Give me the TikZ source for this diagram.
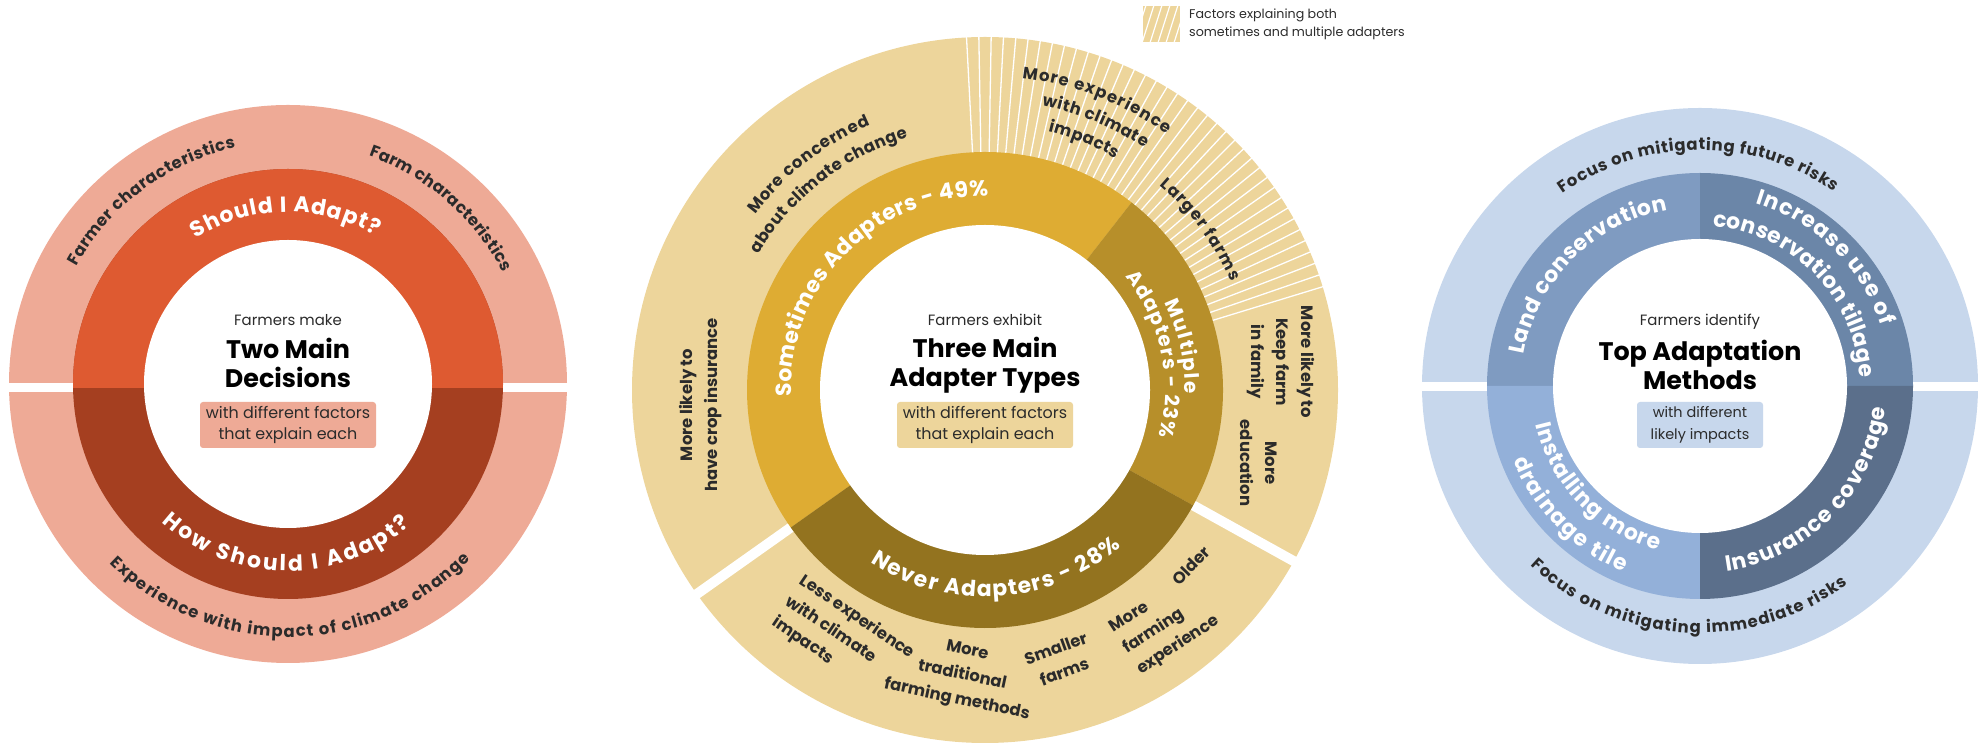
\documentclass[tikz,border=0pt]{standalone}
\usepackage{fontspec}
\setmainfont{Poppins}
\usetikzlibrary{decorations.text}

\definecolor{ink}{HTML}{2B2B2B}
\definecolor{decRing}{HTML}{EEAA96}
\definecolor{decShould}{HTML}{DE5A31}
\definecolor{decHow}{HTML}{A53F20}
\definecolor{typRing}{HTML}{EDD59B}
\definecolor{typSome}{HTML}{DEAC33}
\definecolor{typMult}{HTML}{B78F2A}
\definecolor{typNever}{HTML}{93731F}
\definecolor{metRing}{HTML}{C7D7EC}
\definecolor{metLand}{HTML}{7F9BC1}
\definecolor{metTill}{HTML}{6B86A8}
\definecolor{metTile}{HTML}{93B0D9}
\definecolor{metIns}{HTML}{5B6F8B}

\newcommand\bandfont{\fontsize{22}{22}\selectfont\bfseries\color{white}}
\newcommand\multfont{\fontsize{20}{20}\selectfont\bfseries\color{white}}
\newcommand\factfont{\fontsize{16.5}{25}\selectfont\bfseries\color{ink}}
\newcommand\leadfont{\fontsize{15}{15}\selectfont\color{ink}}
\newcommand\titlefont{\fontsize{25.5}{29}\selectfont\bfseries\color{black}}
\newcommand\notefont{\fontsize{16}{22}\selectfont\color{ink}}
\newcommand\legendfont{\fontsize{12.7}{18}\selectfont\color{ink}}

\begin{document}
\begin{tikzpicture}[x=1bp,y=1bp]
\tikzset{
    bandtext/.style={decorate,decoration={text along path,text align={fit to path},text={|\bandfont|#1}}},
    multtext/.style={decorate,decoration={text along path,text align={fit to path},text={|\multfont|#1}}},
    facttext/.style={decorate,decoration={text along path,text align={fit to path},text={|\factfont|#1}}},
    factnode/.style={font=\factfont,align=center,inner sep=0pt},
    notebox/.style={font=\notefont,align=center,rounded corners=3bp,minimum height=46bp,inner sep=0pt}
}
\useasboundingbox (0,0) rectangle (1981,746);

\coordinate (lc) at (288,362);
\coordinate (mc) at (985,356);
\coordinate (rc) at (1700,360);

\fill[decRing] (lc) circle (279);
\fill[white] (lc) ++(-290,-8) rectangle ++(580,9);
\fill[decHow] (lc) circle (215);
\begin{scope}
\clip (lc) ++(-220,-4) rectangle ++(440,230);
\fill[decShould] (lc) circle (215);
\end{scope}
\fill[white] (lc) circle (144);

\path[bandtext={Should I Adapt?}] (lc) ++(122.5:172) arc[start angle=122.5,end angle=59.5,radius=172];
\path[bandtext={How Should I Adapt?}] (lc) ++(-132.4:187) arc[start angle=-132.4,end angle=-49,radius=187];
\path[facttext={Farmer characteristics}] (lc) ++(151:242) arc[start angle=151,end angle=102.5,radius=242];
\path[facttext={Farm characteristics}] (lc) ++(70.5:242) arc[start angle=70.5,end angle=27.5,radius=242];
\path[facttext={Experience with impact of climate change}] (lc) ++(-134.8:253) arc[start angle=-134.8,end angle=-43.8,radius=253];

\node[font=\leadfont,inner sep=0pt] (lmake) at (288,426) {Farmers make};
\node[font=\titlefont,align=center,inner sep=0pt] (ltitle) at (288,383) {Two Main\\Decisions};
\node[notebox,fill=decRing,minimum width=176bp] (lnote) at (288,321) {with different factors\\that explain each};

\fill[typRing] (mc) circle (353);
\foreach \a in {17,19,...,93} \draw[white,line width=1.3bp] (mc) ++(\a:236) -- ++(\a:120);
\draw[white,line width=10bp] (mc) ++(215.3:236) -- ++(215.3:125);
\draw[white,line width=10bp] (mc) ++(-29:236) -- ++(-29:125);
\fill[typSome] (mc) -- ++(52:238) arc[start angle=52,end angle=215.3,radius=238] -- cycle;
\fill[typMult] (mc) -- ++(-29:238) arc[start angle=-29,end angle=52,radius=238] -- cycle;
\fill[typNever] (mc) -- ++(215.3:238) arc[start angle=215.3,end angle=331,radius=238] -- cycle;
\fill[white] (mc) circle (165);

\path[bandtext={Sometimes Adapters - 49{\%}}] (mc) ++(182:194) arc[start angle=182,end angle=89,radius=194];
\path[multtext={Multiple}] (mc) ++(26:200) arc[start angle=26,end angle=-1,radius=200];
\path[multtext={Adapters - 23{\%}}] (mc) ++(39:180) arc[start angle=39,end angle=-15,radius=180];
\path[bandtext={Never Adapters - 28{\%}}] (mc) ++(-123.6:207) arc[start angle=-123.6,end angle=-49,radius=207];
\path[facttext={More concerned}] (mc) ++(142.7:289) arc[start angle=142.7,end angle=113.4,radius=289];
\path[facttext={about climate change}] (mc) ++(149.2:264) arc[start angle=149.2,end angle=107,radius=264];
\path[facttext={More experience}] (mc) ++(83.2:314) arc[start angle=83.2,end angle=54.6,radius=314];
\path[facttext={with climate}] (mc) ++(78.7:290) arc[start angle=78.7,end angle=56.6,radius=290];
\path[facttext={impacts}] (mc) ++(76.3:266) arc[start angle=76.3,end angle=60.5,radius=266];
\path[facttext={Larger farms}] (mc) ++(49.5:269) arc[start angle=49.5,end angle=23.8,radius=269];

\node[factnode,rotate=90] (minsure) at (701,341) {More likely to\\have crop insurance};
\node[factnode,rotate=-90] (mfamily) at (1281,384) {More likely to\\Keep farm\\in family};
\node[factnode,rotate=-90] (meducate) at (1259,283) {More\\education};
\node[factnode,rotate=-34,align=left] (mless) at (843,108) {Less experience\\with climate\\impacts};
\node[factnode,rotate=-12] (mtrad) at (962,70) {More\\traditional\\farming methods};
\node[factnode,rotate=20] (msmall) at (1060,86) {Smaller\\farms};
\node[factnode,rotate=33,align=left] (mexper) at (1165,121) {More\\farming\\experience};
\node[factnode,rotate=46] (molder) at (1191,180) {Older};

\node[font=\leadfont,inner sep=0pt] (mexhibit) at (985,426) {Farmers exhibit};
\node[font=\titlefont,align=center,inner sep=0pt] (mtitle) at (985,381) {Three Main\\Adapter Types};
\node[notebox,fill=typRing,minimum width=176bp] (mnote) at (985,321) {with different factors\\that explain each};

\begin{scope}
\clip (1143,704) rectangle (1180,740);
\fill[typRing] (1143,704) rectangle (1180,740);
\foreach \d in {0,8,...,48} \draw[white,line width=1.2bp] (1133+\d,700) -- ++(14,44);
\end{scope}
\node[font=\legendfont,align=left,anchor=west,inner sep=0pt] (legtext) at (1189,722) {Factors explaining both\\sometimes and multiple adapters};

\fill[metRing] (rc) circle (278);
\fill[white] (rc) ++(-290,-5) rectangle ++(580,9);
\fill[metLand] (rc) -- ++(90:213) arc[start angle=90,end angle=180,radius=213] -- cycle;
\fill[metTill] (rc) -- ++(0:213) arc[start angle=0,end angle=90,radius=213] -- cycle;
\fill[metTile] (rc) -- ++(180:213) arc[start angle=180,end angle=270,radius=213] -- cycle;
\fill[metIns] (rc) -- ++(270:213) arc[start angle=270,end angle=360,radius=213] -- cycle;
\fill[white] (rc) circle (147);

\path[bandtext={Land conservation}] (rc) ++(170:179) arc[start angle=170,end angle=100.4,radius=179];
\path[bandtext={Increase use of}] (rc) ++(73:191) arc[start angle=73,end angle=18.4,radius=191];
\path[bandtext={conservation tillage}] (rc) ++(85.5:160) arc[start angle=85.5,end angle=3,radius=160];
\path[bandtext={Installing more}] (rc) ++(193:169) arc[start angle=193,end angle=255.7,radius=169];
\path[bandtext={drainage tile}] (rc) ++(201.6:201) arc[start angle=201.6,end angle=247.8,radius=201];
\path[bandtext={Insurance coverage}] (rc) ++(-81.9:187) arc[start angle=-81.9,end angle=-6.7,radius=187];
\path[facttext={Focus on mitigating future risks}] (rc) ++(125.5:236) arc[start angle=125.5,end angle=55.4,radius=236];
\path[facttext={Focus on mitigating immediate risks}] (rc) ++(-133.3:247) arc[start angle=-133.3,end angle=-53.2,radius=247];

\node[font=\leadfont,inner sep=0pt] (ridentify) at (1700,424) {Farmers identify};
\node[font=\titlefont,align=center,inner sep=0pt] (rtitle) at (1700,381) {Top Adaptation\\Methods};
\node[notebox,font=\fontsize{14.5}{22}\selectfont\color{ink},fill=metRing,minimum width=126bp] (rnote) at (1700,321) {with different\\likely impacts};
\end{tikzpicture}
\end{document}
